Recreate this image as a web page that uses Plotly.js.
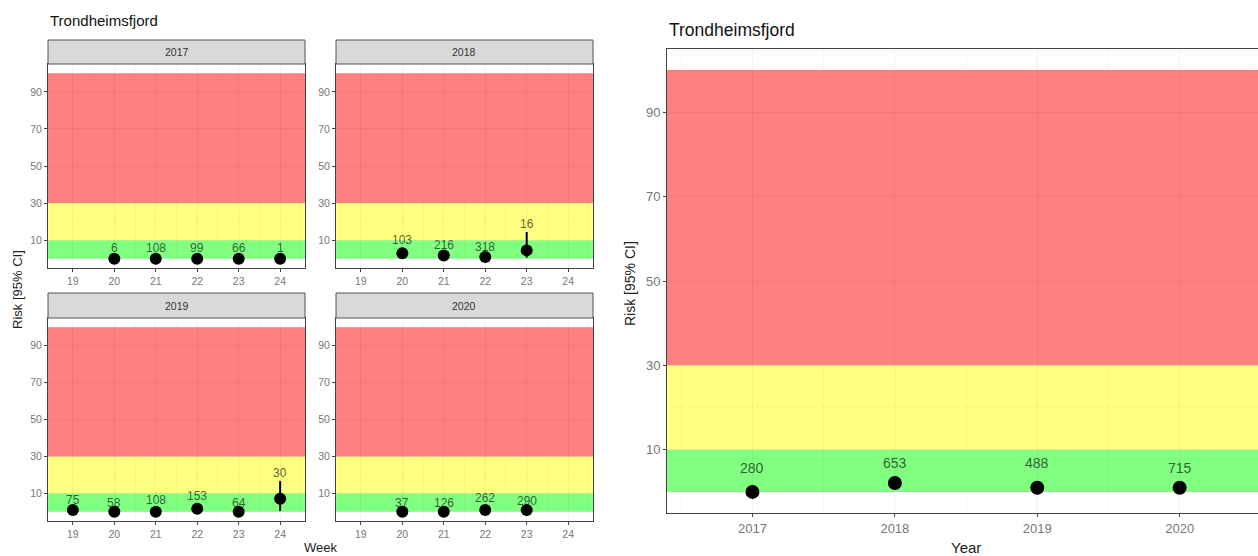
<!DOCTYPE html>
<html>
<head>
<meta charset="utf-8">
<script src="https://cdn.plot.ly/plotly-3.0.1.min.js"></script>
<style>html,body{margin:0;padding:0;background:#fff;}#chart{width:1258px;height:556px;}</style>
</head>
<body>
<div id="chart"></div>
<script>
// ---------- data ----------
const regionName = "Trondheimsfjord";
const years = [2017, 2018, 2019, 2020];
const weekTicks = [19, 20, 21, 22, 23, 24];
const riskTicks = [10, 30, 50, 70, 90];

// risk bands (lower, upper) and colours
const bandLower = [0, 10, 30];
const bandUpper = [10, 30, 100];
const bandColors = ["rgb(128,255,128)", "rgb(255,255,128)", "rgb(255,128,128)"];

// weekly estimates per year
const weeks2017 = [20, 21, 22, 23, 24];
const risk2017  = [0, 0, 0, 0, 0];
const low2017   = [0, 0, 0, 0, 0];
const high2017  = [1.5, 1.5, 1.5, 1.5, 1.5];
const n2017     = [6, 108, 99, 66, 1];

const weeks2018 = [20, 21, 22, 23];
const risk2018  = [3.0, 1.8, 0.9, 4.5];
const low2018   = [1.0, 0.8, 0.2, 0.6];
const high2018  = [6.0, 2.9, 2.0, 14.4];
const n2018     = [103, 216, 318, 16];

const weeks2019 = [19, 20, 21, 22, 23, 24];
const risk2019  = [1.0, 0, 0, 1.7, 0, 7.1];
const low2019   = [0.3, 0, 0, 0.6, 0, 0.4];
const high2019  = [1.8, 0.6, 1.8, 4.2, 0.6, 16.6];
const n2019     = [75, 58, 108, 153, 64, 30];

const weeks2020 = [20, 21, 22, 23];
const risk2020  = [0, 0, 1.0, 1.0];
const low2020   = [0, 0, 0.3, 0.3];
const high2020  = [0.5, 0.5, 3.1, 1.3];
const n2020     = [37, 126, 262, 290];

// yearly estimates
const riskYear = [0, 2.1, 1.0, 1.0];
const lowYear  = [0, 1.4, 0.5, 0.5];
const highYear = [1.5, 2.7, 2.5, 1.5];
const nYear    = [280, 653, 488, 715];

// ---------- layout helpers ----------
const W = 1258, H = 556;
const px = v => v / W;
const py = v => 1 - v / H;
const FONT = "Liberation Sans, Arial, sans-serif";

const weekly = [
  {w: weeks2017, r: risk2017, lo: low2017, hi: high2017, n: n2017},
  {w: weeks2018, r: risk2018, lo: low2018, hi: high2018, n: n2018},
  {w: weeks2019, r: risk2019, lo: low2019, hi: high2019, n: n2019},
  {w: weeks2020, r: risk2020, lo: low2020, hi: high2020, n: n2020}
];

// panel geometry in pixels (left, right, top of strip, top of plot, bottom)
const panels = [
  {l: 48,  r: 305, st: 40,  t: 64,  b: 268},
  {l: 336, r: 593, st: 40,  t: 64,  b: 268},
  {l: 48,  r: 305, st: 293, t: 318, b: 521},
  {l: 336, r: 593, st: 293, t: 318, b: 521}
];
const right = {l: 667, r: 1258, t: 49, b: 513};

const traces = [];
const shapes = [];
const annotations = [];
const layout = {
  width: W, height: H,
  margin: {l: 0, r: 0, t: 0, b: 0},
  paper_bgcolor: "#fff", plot_bgcolor: "#fff",
  showlegend: false,
  font: {family: FONT}
};

const GRID = "rgba(0,0,0,0.05)";
const MINOR = "rgba(0,0,0,0.025)";

function axisCommon(fontSize) {
  return {
    showline: true, mirror: true, linecolor: "#444", linewidth: 1,
    ticks: "outside", ticklen: 3, tickcolor: "#444", tickwidth: 1,
    tickfont: {size: fontSize, color: "#777", family: FONT},
    showgrid: true, gridcolor: GRID, gridwidth: 1,
    zeroline: false, fixedrange: true
  };
}

weekly.forEach((d, i) => {
  const k = i + 1;
  const xa = "xaxis" + (k === 1 ? "" : k);
  const ya = "yaxis" + (k === 1 ? "" : k);
  const xr = "x" + (k === 1 ? "" : k);
  const yr = "y" + (k === 1 ? "" : k);
  const p = panels[i];
  layout[xa] = Object.assign(axisCommon(10.5), {
    domain: [px(p.l), px(p.r)], anchor: yr, range: [18.4, 24.6],
    tickvals: weekTicks, ticktext: weekTicks.map(String),
    minor: {tick0: 18.5, dtick: 1, showgrid: true, gridcolor: MINOR, ticklen: 0}
  });
  layout[ya] = Object.assign(axisCommon(10.5), {
    domain: [py(p.b), py(p.t)], anchor: xr, range: [-5, 105],
    tickvals: riskTicks, ticktext: riskTicks.map(String),
    minor: {tick0: 0, dtick: 20, showgrid: true, gridcolor: MINOR, ticklen: 0}
  });
  // bands
  bandLower.forEach((lo, j) => {
    shapes.push({type: "rect", layer: "below", xref: xr, yref: yr,
      x0: 18.4, x1: 24.6, y0: lo, y1: bandUpper[j], fillcolor: bandColors[j], line: {width: 0}});
  });
  // strip
  shapes.push({type: "rect", layer: "above", xref: "paper", yref: "paper",
    x0: px(p.l), x1: px(p.r), y0: py(p.t), y1: py(p.st),
    fillcolor: "#d9d9d9", line: {color: "#555", width: 1}});
  annotations.push({xref: "paper", yref: "paper", x: px((p.l + p.r) / 2), y: py((p.st + p.t) / 2),
    text: String(years[i]), showarrow: false, xanchor: "center", yanchor: "middle",
    font: {size: 10.5, color: "#333", family: FONT}});
  // points with CI
  traces.push({
    type: "scatter", mode: "markers", xaxis: xr, yaxis: yr,
    x: d.w, y: d.r,
    marker: {color: "#000", size: 12},
    error_y: {type: "data", symmetric: false,
      array: d.r.map((v, j) => d.hi[j] - v),
      arrayminus: d.r.map((v, j) => v - d.lo[j]),
      width: 0, thickness: 2, color: "#000"},
    hoverinfo: "skip", cliponaxis: false
  });
  // n labels
  d.w.forEach((wk, j) => {
    annotations.push({xref: xr, yref: yr, x: wk, y: d.hi[j], yshift: -1,
      text: String(d.n[j]), showarrow: false, xanchor: "center", yanchor: "bottom",
      font: {size: 12, color: "rgba(0,0,0,0.65)", family: FONT}});
  });
});

// right-hand yearly panel
layout.xaxis5 = Object.assign(axisCommon(13), {
  domain: [px(right.l), 1], anchor: "y5", range: [2016.4, 2020.55],
  tickvals: years, ticktext: years.map(String), mirror: true,
  minor: {tick0: 2016.5, dtick: 1, showgrid: true, gridcolor: MINOR, ticklen: 0}
});
layout.yaxis5 = Object.assign(axisCommon(13), {
  domain: [py(right.b), py(right.t)], anchor: "x5", range: [-5, 105], mirror: false,
  tickvals: riskTicks, ticktext: riskTicks.map(String),
  minor: {tick0: 0, dtick: 20, showgrid: true, gridcolor: MINOR, ticklen: 0}
});
bandLower.forEach((lo, j) => {
  shapes.push({type: "rect", layer: "below", xref: "x5", yref: "y5",
    x0: 2016.4, x1: 2020.55, y0: lo, y1: bandUpper[j], fillcolor: bandColors[j], line: {width: 0}});
});
traces.push({
  type: "scatter", mode: "markers", xaxis: "x5", yaxis: "y5",
  x: years, y: riskYear,
  marker: {color: "#000", size: 14},
  error_y: {type: "data", symmetric: false,
    array: riskYear.map((v, j) => highYear[j] - v),
    arrayminus: riskYear.map((v, j) => v - lowYear[j]),
    width: 0, thickness: 2.5, color: "#000"},
  hoverinfo: "skip", cliponaxis: false
});
years.forEach((yr, j) => {
  annotations.push({xref: "x5", yref: "y5", x: yr, y: highYear[j], yshift: 8,
    text: String(nYear[j]), showarrow: false, xanchor: "center", yanchor: "bottom",
    font: {size: 14, color: "rgba(0,0,0,0.65)", family: FONT}});
});

// titles
annotations.push({xref: "paper", yref: "paper", x: px(48), y: py(20), text: regionName,
  showarrow: false, xanchor: "left", yanchor: "middle", font: {size: 15, color: "#111", family: FONT}});
annotations.push({xref: "paper", yref: "paper", x: px(667), y: py(30), text: regionName,
  showarrow: false, xanchor: "left", yanchor: "middle", font: {size: 17.5, color: "#111", family: FONT}});
annotations.push({xref: "paper", yref: "paper", x: px(320), y: py(547), text: "Week",
  showarrow: false, xanchor: "center", yanchor: "middle", font: {size: 13, color: "#222", family: FONT}});
annotations.push({xref: "paper", yref: "paper", x: px(17), y: py(290), text: "Risk [95% CI]", textangle: -90,
  showarrow: false, xanchor: "center", yanchor: "middle", font: {size: 13, color: "#222", family: FONT}});
annotations.push({xref: "paper", yref: "paper", x: px(966), y: py(547), text: "Year",
  showarrow: false, xanchor: "center", yanchor: "middle", font: {size: 15, color: "#222", family: FONT}});
annotations.push({xref: "paper", yref: "paper", x: px(630), y: py(283), text: "Risk [95% CI]", textangle: -90,
  showarrow: false, xanchor: "center", yanchor: "middle", font: {size: 14, color: "#222", family: FONT}});

layout.shapes = shapes;
layout.annotations = annotations;

Plotly.newPlot("chart", traces, layout, {staticPlot: true, displayModeBar: false});
</script>
</body>
</html>
